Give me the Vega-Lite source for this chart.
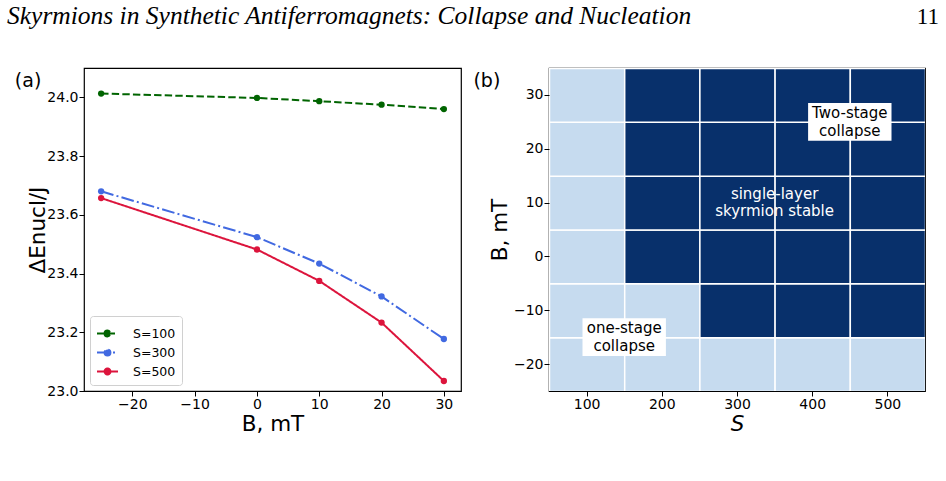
{
  "$schema": "https://vega.github.io/schema/vega-lite/v6.json",
  "padding": {"left": 7, "top": 4, "right": 0, "bottom": 0},
  "background": "white",
  "config": {
    "font": "DejaVu Sans",
    "view": {"stroke": "black", "strokeWidth": 1.2},
    "axis": {
      "labelFontSize": 14, "titleFontSize": 21.5, "titleFontWeight": "normal",
      "labelColor": "black", "titleColor": "black", "tickColor": "black",
      "domain": false, "grid": false, "tickSize": 5, "labelPadding": 1, "titlePadding": 2
    },
    "title": {"fontWeight": "normal", "color": "black"}
  },
  "spacing": 33,
  "resolve": {"scale": {"color": "independent", "strokeDash": "independent"}, "legend": {"color": "independent", "strokeDash": "independent"}},
  "vconcat": [
    {
      "width": 855, "height": 0,
      "view": {"stroke": null},
      "data": {"values": [
        {"text": "Skyrmions in Synthetic Antiferromagnets: Collapse and Nucleation", "side": "left"},
        {"text": "11", "side": "right"}
      ]},
      "layer": [
        {
          "transform": [{"filter": "datum.side === 'left'"}],
          "mark": {"type": "text", "align": "left", "baseline": "alphabetic", "dx": -77, "font": "Liberation Serif", "fontStyle": "italic", "fontSize": 25.5, "color": "black"},
          "encoding": {
            "x": {"field": "side", "type": "nominal", "scale": {"type": "point", "domain": ["left", "right"], "padding": 0}, "axis": null},
            "text": {"field": "text"}
          }
        },
        {
          "transform": [{"filter": "datum.side === 'right'"}],
          "mark": {"type": "text", "align": "right", "baseline": "alphabetic", "font": "Liberation Serif", "fontSize": 23, "color": "black"},
          "encoding": {
            "x": {"field": "side", "type": "nominal", "scale": {"type": "point", "domain": ["left", "right"], "padding": 0}, "axis": null},
            "text": {"field": "text"}
          }
        }
      ]
    },
    {
      "spacing": 10,
      "resolve": {"scale": {"color": "independent", "strokeDash": "independent"}, "legend": {"color": "independent", "strokeDash": "independent"}},
      "hconcat": [
        {
          "width": 377, "height": 323,
          "title": {"text": "(a)", "anchor": "start", "frame": "bounds", "fontSize": 19, "offset": -23, "dx": -13},
          "data": {"values": [
            {"S": "S=100", "B": -25, "E": 24.013},
            {"S": "S=100", "B": 0, "E": 23.998},
            {"S": "S=100", "B": 10, "E": 23.987},
            {"S": "S=100", "B": 20, "E": 23.975},
            {"S": "S=100", "B": 30, "E": 23.960},
            {"S": "S=300", "B": -25, "E": 23.680},
            {"S": "S=300", "B": 0, "E": 23.524},
            {"S": "S=300", "B": 10, "E": 23.434},
            {"S": "S=300", "B": 20, "E": 23.322},
            {"S": "S=300", "B": 30, "E": 23.177},
            {"S": "S=500", "B": -25, "E": 23.657},
            {"S": "S=500", "B": 0, "E": 23.482},
            {"S": "S=500", "B": 10, "E": 23.375},
            {"S": "S=500", "B": 20, "E": 23.233},
            {"S": "S=500", "B": 30, "E": 23.034}
          ]},
          "mark": {"type": "line", "strokeWidth": 2, "point": {"size": 40, "filled": true}},
          "encoding": {
            "x": {"field": "B", "type": "quantitative", "scale": {"domain": [-27.75, 32.75], "nice": false, "zero": false},
                  "axis": {"values": [-20, -10, 0, 10, 20, 30], "title": "B, mT"}},
            "y": {"field": "E", "type": "quantitative", "scale": {"domain": [23.0, 24.1], "nice": false, "zero": false},
                  "axis": {"values": [23.0, 23.2, 23.4, 23.6, 23.8, 24.0], "format": ".1f", "title": "ΔEnucl/J", "titlePadding": -3}},
            "color": {"field": "S", "type": "nominal",
                      "scale": {"domain": ["S=100", "S=300", "S=500"], "range": ["#006400", "#4169e1", "#dc143c"]},
                      "legend": {"title": null, "orient": "bottom-left", "offset": 6, "fillColor": "white", "strokeColor": "#d0d0d0",
                                 "cornerRadius": 3, "padding": 6, "labelFontSize": 12.5, "labelColor": "black", "symbolStrokeWidth": 2,
                                 "symbolType": "M-1,0H1M-0.28,0A0.28,0.28,0,1,0,0.28,0A0.28,0.28,0,1,0,-0.28,0", "symbolSize": 441,
                                 "rowPadding": 0, "labelOffset": 14}},
            "strokeDash": {"field": "S", "type": "nominal",
                           "scale": {"domain": ["S=100", "S=300", "S=500"], "range": [[7.4, 3.2], [12.8, 3.2, 2, 3.2], [1, 0]]}}
          }
        },
        {
          "width": 376, "height": 323,
          "title": {"text": "(b)", "anchor": "start", "frame": "bounds", "fontSize": 19, "offset": -23, "dx": -16},
          "layer": [
            {
              "data": {"values": [
                {"S": 100, "B": -20, "state": "collapse"}, {"S": 100, "B": -10, "state": "collapse"}, {"S": 100, "B": 0, "state": "collapse"},
                {"S": 100, "B": 10, "state": "collapse"}, {"S": 100, "B": 20, "state": "collapse"}, {"S": 100, "B": 30, "state": "collapse"},
                {"S": 200, "B": -20, "state": "collapse"}, {"S": 200, "B": -10, "state": "collapse"}, {"S": 200, "B": 0, "state": "stable"},
                {"S": 200, "B": 10, "state": "stable"}, {"S": 200, "B": 20, "state": "stable"}, {"S": 200, "B": 30, "state": "stable"},
                {"S": 300, "B": -20, "state": "collapse"}, {"S": 300, "B": -10, "state": "stable"}, {"S": 300, "B": 0, "state": "stable"},
                {"S": 300, "B": 10, "state": "stable"}, {"S": 300, "B": 20, "state": "stable"}, {"S": 300, "B": 30, "state": "stable"},
                {"S": 400, "B": -20, "state": "collapse"}, {"S": 400, "B": -10, "state": "stable"}, {"S": 400, "B": 0, "state": "stable"},
                {"S": 400, "B": 10, "state": "stable"}, {"S": 400, "B": 20, "state": "stable"}, {"S": 400, "B": 30, "state": "stable"},
                {"S": 500, "B": -20, "state": "collapse"}, {"S": 500, "B": -10, "state": "stable"}, {"S": 500, "B": 0, "state": "stable"},
                {"S": 500, "B": 10, "state": "stable"}, {"S": 500, "B": 20, "state": "stable"}, {"S": 500, "B": 30, "state": "stable"}
              ]},
              "mark": {"type": "rect", "stroke": "white", "strokeWidth": 1.5, "clip": true},
              "encoding": {
                "x": {"field": "S", "type": "quantitative", "bin": {"step": 100, "extent": [50, 550], "nice": false},
                      "scale": {"domain": [50, 550], "nice": false, "zero": false},
                      "axis": {"values": [100, 200, 300, 400, 500], "format": "d", "title": "S", "titleFontStyle": "italic"}},
                "y": {"field": "B", "type": "quantitative", "bin": {"step": 10, "extent": [-25, 35], "nice": false},
                      "scale": {"domain": [-25, 35], "nice": false, "zero": false},
                      "axis": {"values": [-20, -10, 0, 10, 20, 30], "format": "d", "title": "B, mT"}},
                "color": {"field": "state", "type": "nominal",
                          "scale": {"domain": ["collapse", "stable"], "range": ["#c6dbef", "#08306b"]}, "legend": null}
              }
            },
            {
              "data": {"values": [
                {"S": 450, "B": 25, "label": "Two-stage\ncollapse", "boxed": true},
                {"S": 350, "B": 10, "label": "single-layer\nskyrmion stable", "boxed": false},
                {"S": 150, "B": -15, "label": "one-stage\ncollapse", "boxed": true}
              ]},
              "layer": [
                {
                  "transform": [{"filter": "datum.boxed"}],
                  "mark": {"type": "point", "shape": "M-1,-0.452L1,-0.452L1,0.452L-1,0.452Z", "size": 6956, "filled": true, "color": "white", "opacity": 1, "strokeWidth": 0},
                  "encoding": {
                    "x": {"field": "S", "type": "quantitative"},
                    "y": {"field": "B", "type": "quantitative"}
                  }
                },
                {
                  "mark": {"type": "text", "lineBreak": "\n", "fontSize": 15, "lineHeight": 17.5, "baseline": "middle", "align": "center", "dy": -8.75},
                  "encoding": {
                    "x": {"field": "S", "type": "quantitative"},
                    "y": {"field": "B", "type": "quantitative"},
                    "text": {"field": "label"},
                    "color": {"condition": {"test": "datum.boxed", "value": "black"}, "value": "white"}
                  }
                }
              ]
            }
          ]
        }
      ]
    }
  ]
}
